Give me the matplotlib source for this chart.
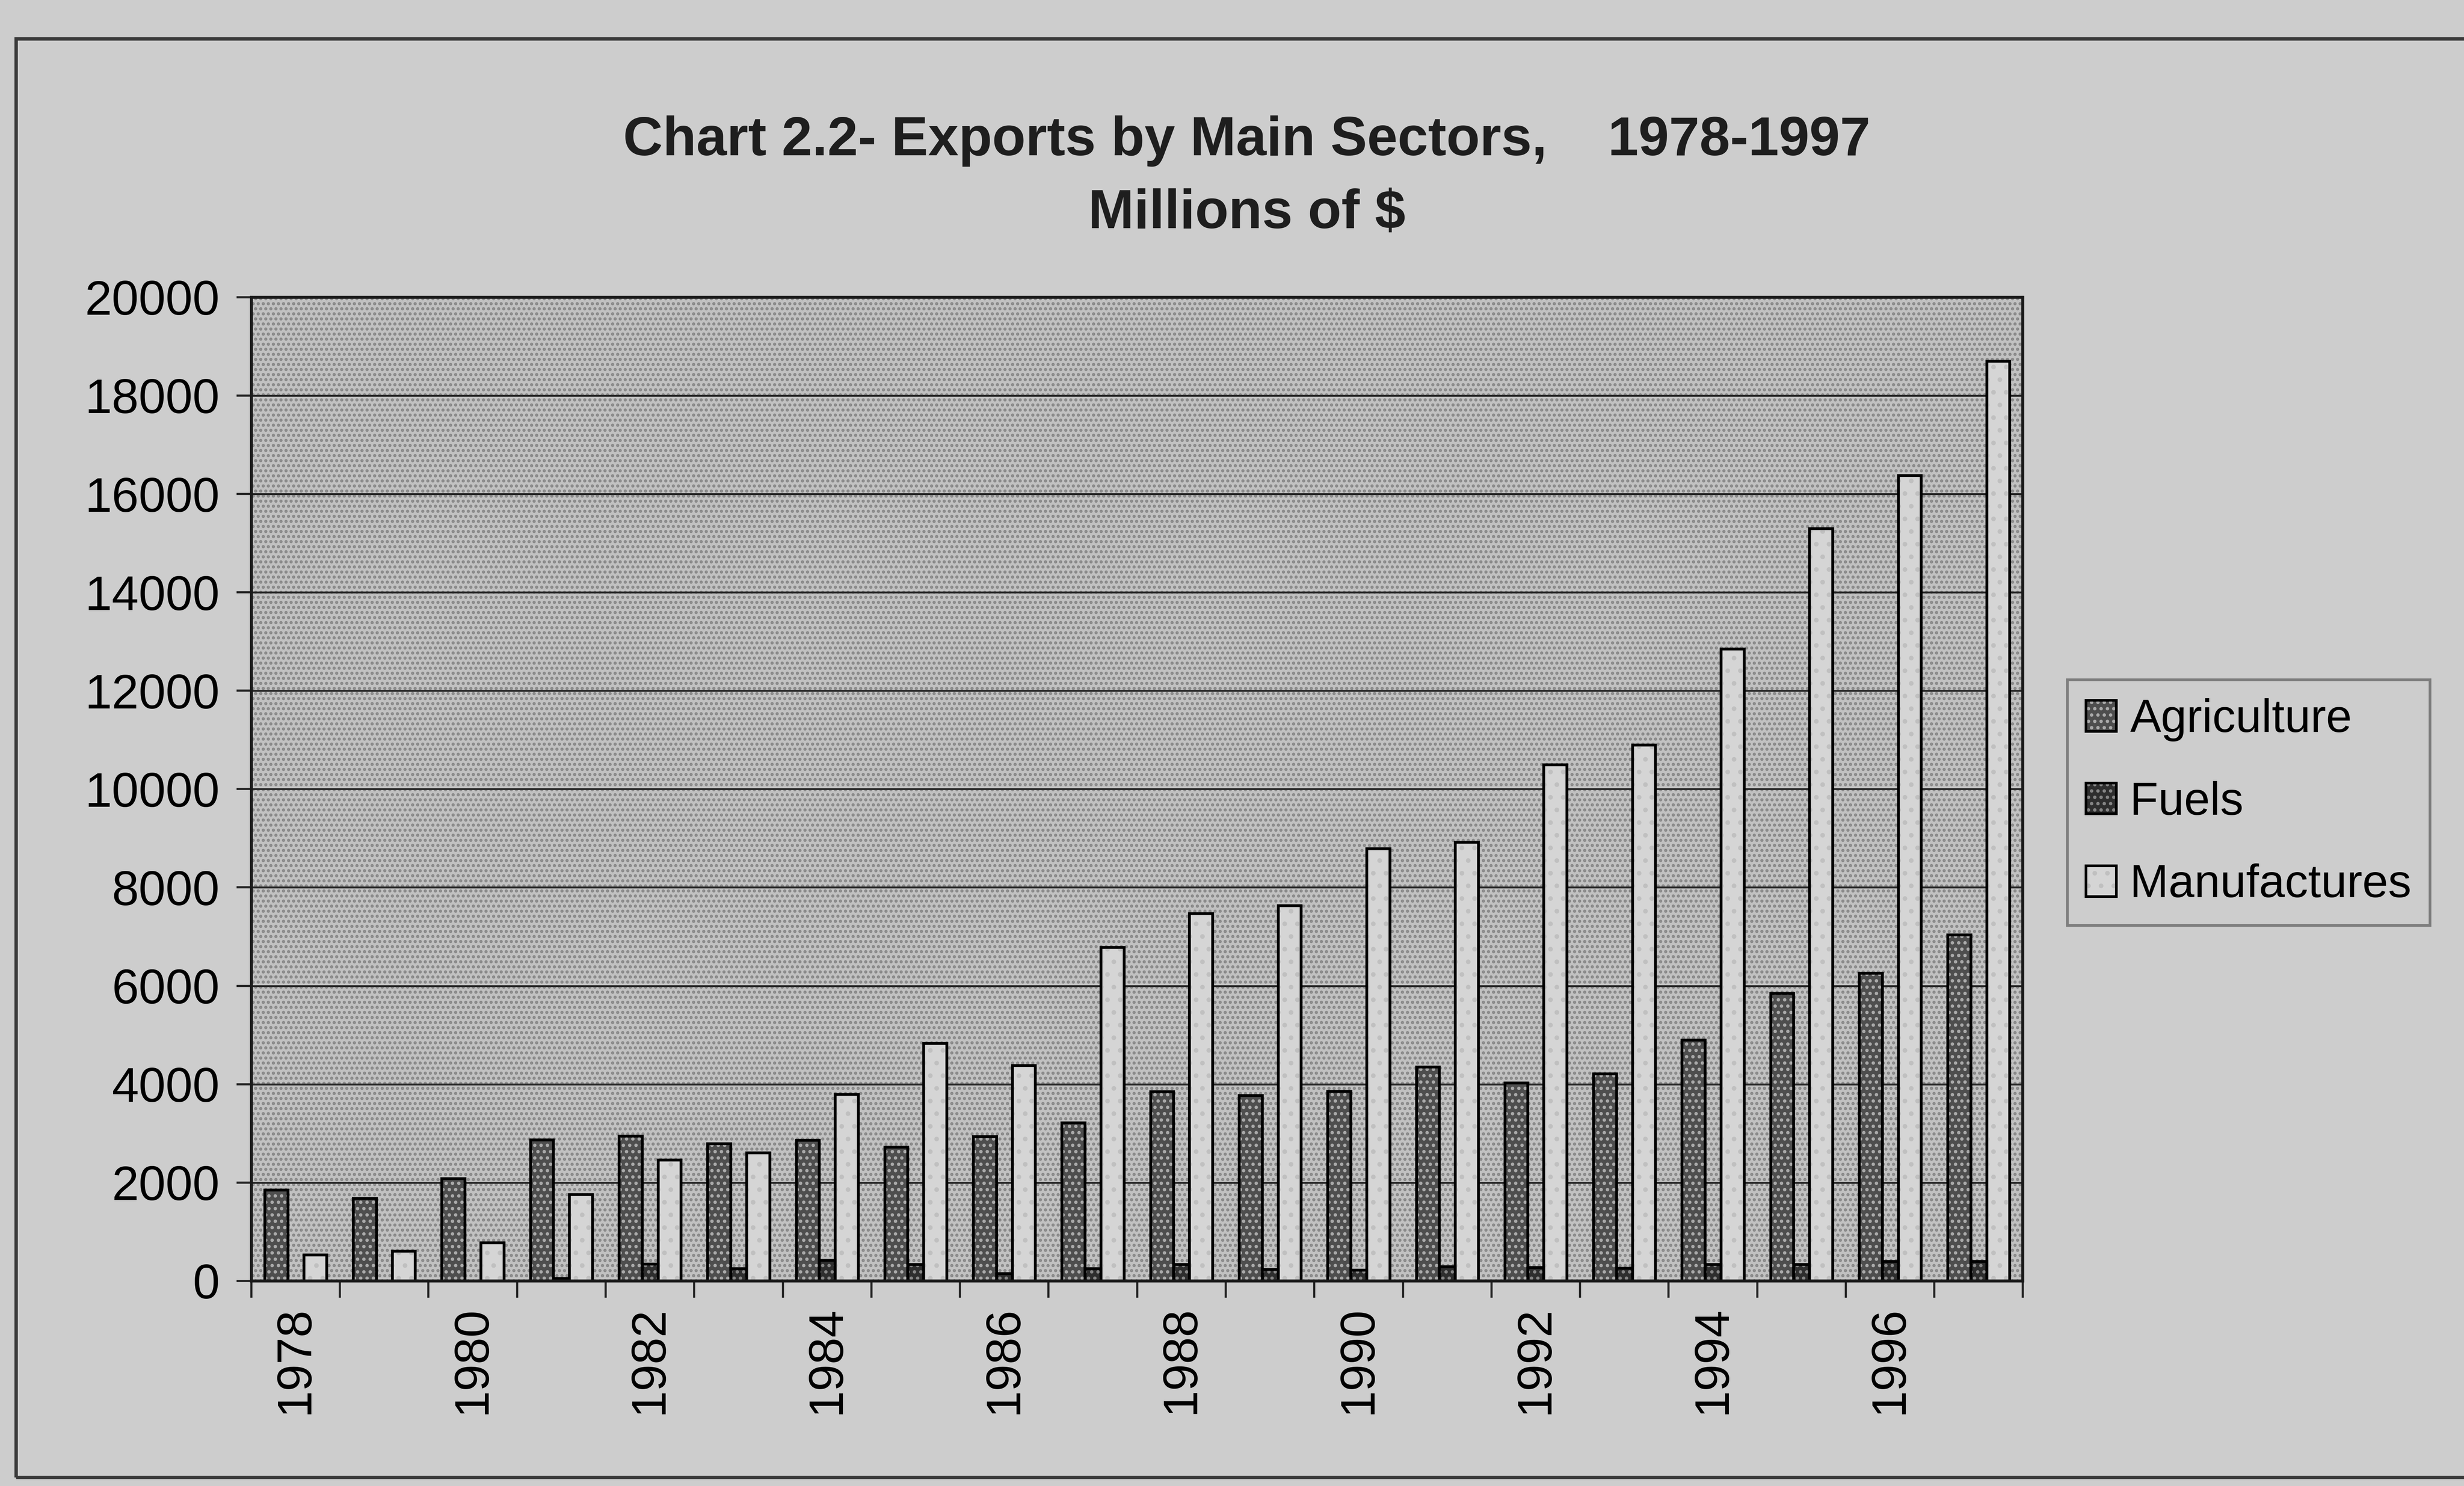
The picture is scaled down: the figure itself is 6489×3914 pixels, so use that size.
import numpy as np
import matplotlib
matplotlib.use("Agg")
import matplotlib.pyplot as plt
from matplotlib.patches import Patch, Rectangle
from matplotlib.ticker import FixedLocator, NullFormatter

plt.rcParams['font.family'] = ['Liberation Sans', 'DejaVu Sans']
plt.rcParams['hatch.linewidth'] = 1.0

# exports, millions of $
years = list(range(1978, 1998))
agriculture = [1850, 1680, 2080, 2870, 2950, 2790, 2860, 2720, 2940, 3220,
               3850, 3770, 3860, 4350, 4030, 4210, 4900, 5850, 6260, 7040]
fuels = [0, 0, 0, 50, 350, 250, 420, 340, 150, 250,
         340, 240, 220, 290, 280, 260, 340, 340, 400, 400]
manufactures = [530, 610, 780, 1760, 2460, 2610, 3800, 4830, 4380, 6780,
                7470, 7630, 8790, 8920, 10500, 10900, 12850, 15300, 16380, 18700]
labels = ['Agriculture', 'Fuels', 'Manufactures']

page_col = '#cdcdcd'
# (face, dot colour, dot hatch, offset, width)
styles = [('#4e4e4e', '#aaaaaa', '....', -0.22, 0.26),
          ('#2e2e2e', '#858585', '....', 0.0, 0.18),
          ('#d5d5d5', '#c0c0c0', '..', 0.22, 0.26)]

fig = plt.figure(figsize=(16.2225, 9.785), dpi=400, facecolor=page_col)
ax = fig.add_axes([0.102, 0.138, 0.719, 0.662])

# dotted plot area
ax.patch.set_facecolor('#c1c1c1')
ax.add_patch(Rectangle((0, 0), 1, 1, transform=ax.transAxes, fill=False,
                       hatch='.....', edgecolor='#888888', lw=0, zorder=0.2))

x = np.arange(len(years))
handles = []
for vals, (face, dots, hatch, off, w), lab in zip(
        [agriculture, fuels, manufactures], styles, labels):
    ax.bar(x + off, vals, w, color=face, edgecolor='black', lw=1.3, zorder=2)
    ax.bar(x + off, vals, w, fill=False, hatch=hatch, edgecolor=dots, lw=0, zorder=2.1)
    ax.bar(x + off, vals, w, fill=False, edgecolor='black', lw=1.3, zorder=2.2)
    handles.append((Patch(facecolor=face, edgecolor='black', lw=1.2),
                    Patch(fill=False, hatch=hatch, edgecolor=dots, lw=0),
                    Patch(fill=False, edgecolor='black', lw=1.2)))

ax.set_xlim(-0.5, len(years) - 0.5)
ax.set_ylim(0, 20000)
ax.set_yticks(np.arange(0, 20001, 2000))
ax.set_yticklabels([str(v) for v in range(0, 20001, 2000)], fontsize=23)
ax.yaxis.grid(True, color='#262626', lw=0.9)
ax.set_axisbelow(True)

# year labels every other category, ticks on category boundaries
ax.set_xticks(x[::2])
ax.set_xticklabels([str(y) for y in years[::2]], rotation=90, fontsize=23)
ax.xaxis.set_minor_locator(FixedLocator(np.arange(-0.5, len(years), 1.0)))
ax.xaxis.set_minor_formatter(NullFormatter())
ax.tick_params(axis='x', which='major', length=0, pad=12)
ax.tick_params(axis='x', which='minor', length=8, width=1.0, color='#222222')
ax.tick_params(axis='y', length=7, width=1.0, pad=8, color='#222222')

for s in ax.spines.values():
    s.set_color('#1a1a1a')
    s.set_linewidth(1.4)

fig.text(0.506, 0.905, 'Chart 2.2- Exports by Main Sectors,    1978-1997',
         ha='center', va='center', fontsize=26, fontweight='bold', color='#1e1e1e')
fig.text(0.506, 0.856, 'Millions of $', ha='center', va='center',
         fontsize=26, fontweight='bold', color='#1e1e1e')

leg = fig.legend(handles, labels, loc='center left', bbox_to_anchor=(0.839, 0.46),
                 fontsize=22, frameon=True, fancybox=False, handlelength=0.65,
                 handleheight=0.65, handletextpad=0.3, labelspacing=0.85,
                 borderpad=0.4, borderaxespad=0)
leg.get_frame().set_facecolor(page_col)
leg.get_frame().set_edgecolor('#6a6a6a')
leg.get_frame().set_linewidth(1.3)

# outer chart frame
fig.patches.append(Rectangle((0.0064, 0.006), 1.2, 0.968, transform=fig.transFigure,
                             fill=False, edgecolor='#3a3a3a', lw=1.6))

fig.savefig('out.png', dpi=400, facecolor=page_col)
